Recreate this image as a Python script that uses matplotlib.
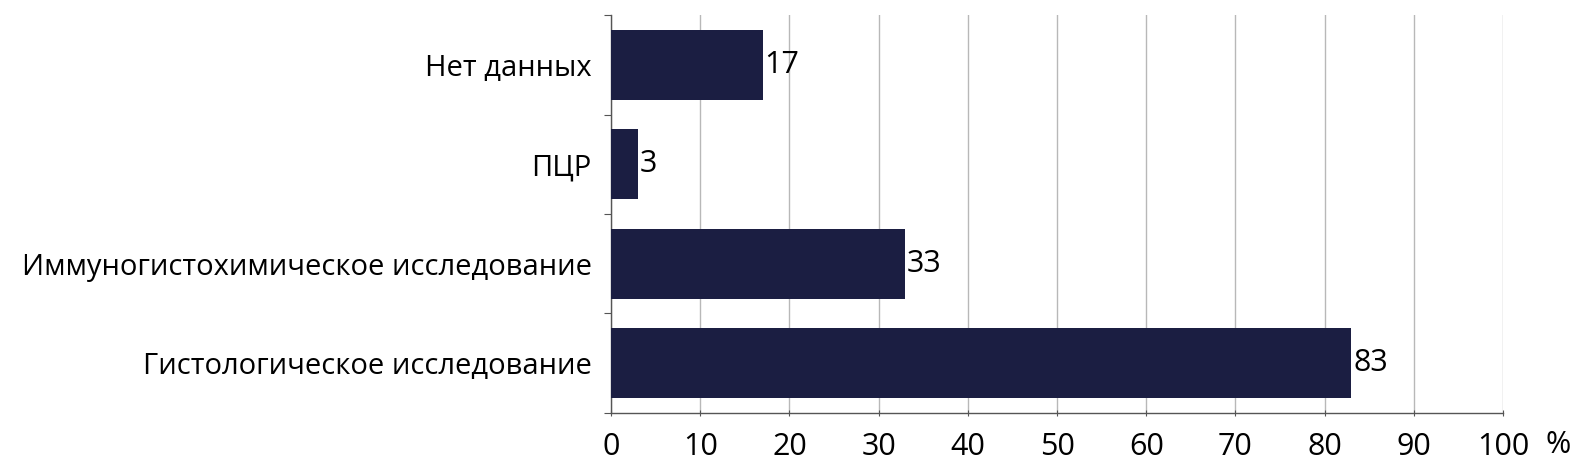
import matplotlib.pyplot as plt
import numpy as np

plt.rcParams['font.family'] = ['Open Sans', 'DejaVu Sans']

categories = ['Гистологическое исследование', 'Иммуногистохимическое исследование', 'ПЦР', 'Нет данных']
values = [83, 33, 3, 17]
x_ticks = list(range(0, 101, 10))

fig = plt.figure(figsize=(15.9, 4.62), dpi=100)
ax = fig.add_axes([0.3843, 0.1061, 0.5610, 0.8614])

y = np.arange(len(categories))
bars = ax.barh(y, values, height=0.7, color='#1b1e42', zorder=3)

for yi, v in zip(y, values):
    ax.text(v + 0.2, yi, str(v), va='center', ha='left', fontsize=22, color='black', zorder=4)

ax.set_xlim(0, 100)
ax.set_ylim(-0.5, len(categories) - 0.5)
ax.set_xticks(x_ticks)
ax.set_xticklabels([str(t) for t in x_ticks])
ax.set_yticks(np.arange(-0.5, len(categories), 1), minor=False)
ax.set_yticklabels([])
ax.set_yticks(y, minor=True)
ax.set_yticklabels(categories, minor=True)
ax.tick_params(axis='y', which='minor', length=0, pad=14, labelsize=21)
ax.tick_params(axis='y', which='major', length=5, direction='out', color='#555555')
ax.tick_params(axis='x', length=5, direction='inout', labelsize=22, pad=11, color='#555555')

ax.grid(axis='x', color='#b8b8b8', linewidth=1, zorder=0)
for s in ['top', 'right']:
    ax.spines[s].set_visible(False)
for s in ['left', 'bottom']:
    ax.spines[s].set_color('#555555')
    ax.spines[s].set_linewidth(1)

fig.text(1558 / 1590, 1 - 445 / 462, '%', ha='center', va='center', fontsize=22)

fig.savefig('out.png', dpi=100)
